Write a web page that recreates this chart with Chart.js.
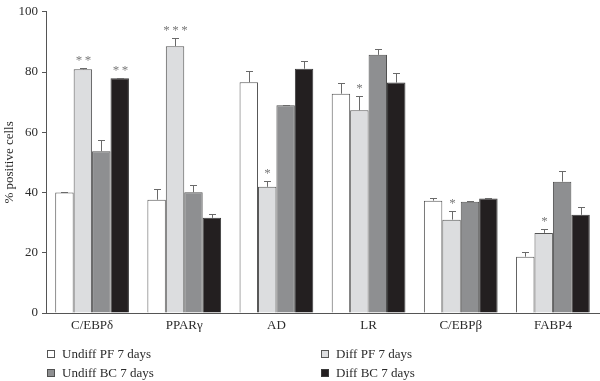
<!DOCTYPE html>
<html><head><meta charset="utf-8">
<script src="https://cdn.jsdelivr.net/npm/chart.js@4.4.0/dist/chart.umd.min.js"></script>
<style>
html,body{margin:0;padding:0;background:#fff;}
#wrap{position:relative;width:600px;height:381px;}
#legend{position:absolute;left:0;top:0;width:600px;height:381px;pointer-events:none;font-family:"Liberation Serif",serif;font-size:13px;color:#2b2b2b;}
.li{position:absolute;display:flex;align-items:center;white-space:nowrap;height:16px;line-height:16px;}
.sw{width:8px;height:8px;border:1px solid #555;margin-right:7px;box-sizing:border-box;}
</style>
</head><body>
<div id="wrap"><canvas id="c" width="600" height="381"></canvas><div id="legend"></div></div>
<script>
const categories = ['C/EBP\u03b4', 'PPAR\u03b3', 'AD', 'LR', 'C/EBP\u03b2', 'FABP4'];
const seriesNames = ['Undiff PF 7 days', 'Diff PF 7 days', 'Undiff BC 7 days', 'Diff BC 7 days'];
const undiffPF = [40.0, 37.6, 76.6, 72.8, 37.3, 18.7];
const diffPF   = [80.9, 88.6, 41.9, 67.3, 31.0, 26.6];
const undiffBC = [53.7, 40.1, 69.0, 85.7, 36.9, 43.6];
const diffBC   = [77.9, 31.6, 81.1, 76.5, 38.0, 32.6];
const undiffPFErr = [0.2, 3.6, 3.6, 3.4, 0.8, 1.4];
const diffPFErr   = [0.3, 2.6, 1.8, 4.7, 2.8, 1.2];
const undiffBCErr = [3.6, 2.5, 0.2, 1.9, 0.2, 3.5];
const diffBCErr   = [0.2, 1.4, 2.7, 3.2, 0.2, 2.7];
const undiffPFSig = ['', '', '', '', '', ''];
const diffPFSig   = ['**', '***', '*', '*', '*', '*'];
const undiffBCSig = ['', '', '', '', '', ''];
const diffBCSig   = ['**', '', '', '', '', ''];
const yTicks = [0, 20, 40, 60, 80, 100];

const fills = ['#ffffff', '#dcdddf', '#8e8f91', '#231f20'];
const borders = ['#555555', '#555555', '#505050', '#3a3a3a'];
const seriesValues = [undiffPF, diffPF, undiffBC, diffBC];
const seriesErrs = [undiffPFErr, diffPFErr, undiffBCErr, diffBCErr];
const seriesSigs = [undiffPFSig, diffPFSig, undiffBCSig, diffBCSig];

const FONT = '"Liberation Serif", "Times New Roman", serif';
Chart.defaults.font.family = FONT;
Chart.defaults.color = '#2b2b2b';

const errPlugin = {
  id: 'errs',
  afterDatasetsDraw(chart) {
    const ctx = chart.ctx;
    const y = chart.scales.y;
    ctx.save();
    chart.data.datasets.forEach((ds, i) => {
      const meta = chart.getDatasetMeta(i);
      meta.data.forEach((bar, j) => {
        const top = y.getPixelForValue(ds.data[j] + seriesErrs[i][j]);
        const x = Math.round(bar.x) + 0.5;
        ctx.strokeStyle = '#6a6a6a';
        ctx.lineWidth = 1;
        ctx.beginPath();
        ctx.moveTo(x, bar.y);
        ctx.lineTo(x, Math.round(top) + 0.5);
        ctx.moveTo(x - 3.5, Math.round(top) + 0.5);
        ctx.lineTo(x + 3.5, Math.round(top) + 0.5);
        ctx.stroke();
        const s = seriesSigs[i][j];
        if (s) {
          ctx.fillStyle = '#7a7a7a';
          ctx.font = '13px ' + FONT;
          ctx.textAlign = 'center';
          ctx.textBaseline = 'alphabetic';
          ctx.fillText(s.split('').join('\u2009'), x, top - 4);
        }
      });
    });
    ctx.restore();
  }
};

new Chart(document.getElementById('c'), {
  type: 'bar',
  data: {
    labels: categories,
    datasets: seriesNames.map((n, i) => ({
      label: n,
      data: seriesValues[i],
      backgroundColor: fills[i],
      borderColor: borders[i],
      borderWidth: 1,
      categoryPercentage: 0.8,
      barPercentage: 1.0
    }))
  },
  options: {
    responsive: false,
    animation: false,
    devicePixelRatio: 1,
    layout: { padding: { top: 7, right: 1, left: 0, bottom: 0 } },
    plugins: { legend: { display: false }, tooltip: { enabled: false } },
    scales: {
      x: {
        grid: { display: false, drawTicks: false },
        border: { display: true, color: '#555555', width: 1 },
        ticks: { padding: 5, font: { size: 13 }, color: '#2b2b2b', maxRotation: 0 },
        afterFit(s) { s.height = 68; }
      },
      y: {
        min: 0, max: 100,
        afterBuildTicks(s) { s.ticks = yTicks.map(v => ({ value: v })); },
        grid: { display: true, drawOnChartArea: false, drawTicks: true, tickLength: 4, color: '#555555' },
        border: { display: true, color: '#555555', width: 1 },
        ticks: { padding: 4, font: { size: 13 }, color: '#2b2b2b' },
        title: { display: true, text: '% positive cells', font: { size: 13 }, color: '#2b2b2b', padding: { top: 2, bottom: 0 } },
        afterFit(s) { s.width = 46; }
      }
    }
  },
  plugins: [errPlugin]
});

const legendPos = [[47, 354], [321, 354], [47, 373], [321, 373]];
const lg = document.getElementById('legend');
seriesNames.forEach((n, i) => {
  const d = document.createElement('div');
  d.className = 'li';
  d.style.left = legendPos[i][0] + 'px';
  d.style.top = (legendPos[i][1] - 8) + 'px';
  const sw = document.createElement('span');
  sw.className = 'sw';
  sw.style.background = fills[i];
  sw.style.borderColor = borders[i];
  const t = document.createElement('span');
  t.textContent = n;
  d.appendChild(sw); d.appendChild(t);
  lg.appendChild(d);
});
</script>
</body></html>
